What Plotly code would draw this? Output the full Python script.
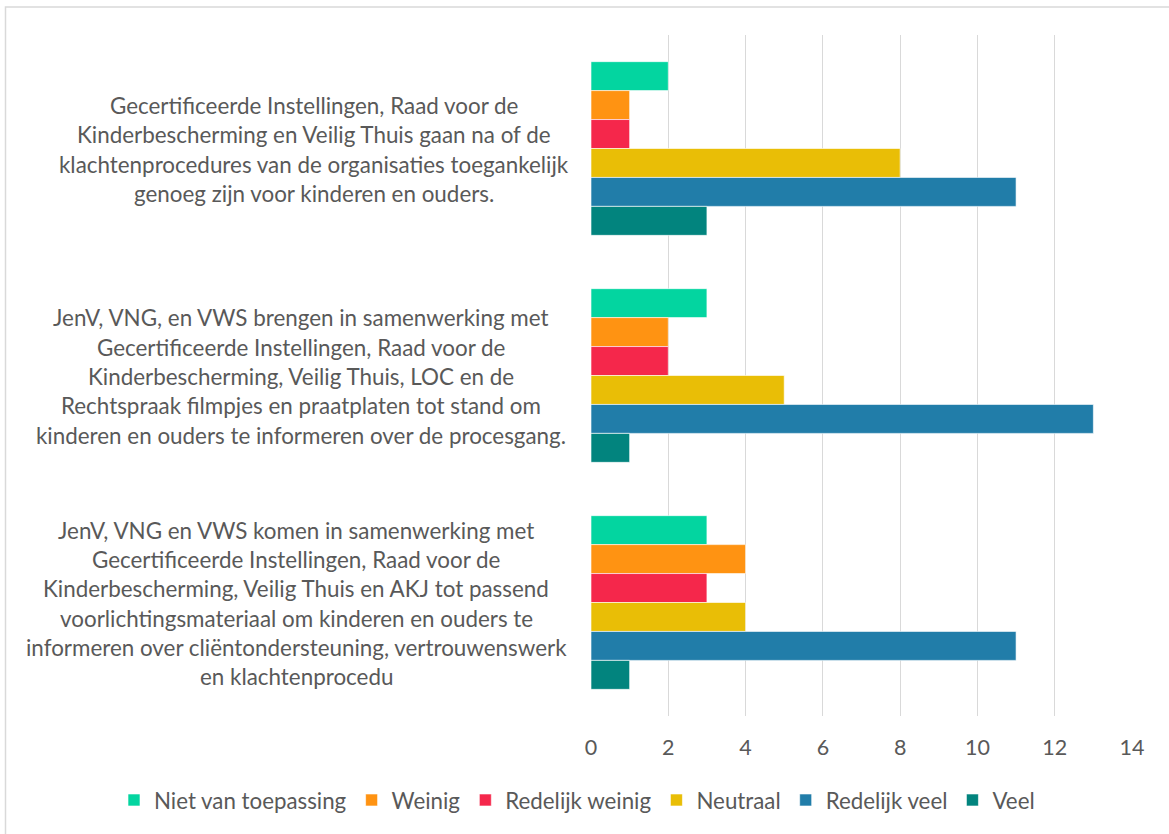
import plotly.graph_objects as go

categories = [
    "Gecertificeerde Instellingen, Raad voor de Kinderbescherming en Veilig Thuis gaan na of de klachtenprocedures van de organisaties toegankelijk genoeg zijn voor kinderen en ouders.",
    "JenV, VNG, en VWS brengen in samenwerking met Gecertificeerde Instellingen, Raad voor de Kinderbescherming, Veilig Thuis, LOC en de Rechtspraak filmpjes en praatplaten tot stand om kinderen en ouders te informeren over de procesgang.",
    "JenV, VNG en VWS komen in samenwerking met Gecertificeerde Instellingen, Raad voor de Kinderbescherming, Veilig Thuis en AKJ tot passend voorlichtingsmateriaal om kinderen en ouders te informeren over cliëntondersteuning, vertrouwenswerk en klachtenprocedu",
]
category_lines = [
    ["Gecertificeerde Instellingen, Raad voor de",
     "Kinderbescherming en Veilig Thuis gaan na of de",
     "klachtenprocedures van de organisaties toegankelijk",
     "genoeg zijn voor kinderen en ouders."],
    ["JenV, VNG, en VWS brengen in samenwerking met",
     "Gecertificeerde Instellingen, Raad voor de",
     "Kinderbescherming, Veilig Thuis, LOC en de",
     "Rechtspraak filmpjes en praatplaten tot stand om",
     "kinderen en ouders te informeren over de procesgang."],
    ["JenV, VNG en VWS komen in samenwerking met",
     "Gecertificeerde Instellingen, Raad voor de",
     "Kinderbescherming, Veilig Thuis en AKJ tot passend",
     "voorlichtingsmateriaal om kinderen en ouders te",
     "informeren over cliëntondersteuning, vertrouwenswerk",
     "en klachtenprocedu"],
]

series_names = ["Niet van toepassing", "Weinig", "Redelijk weinig", "Neutraal", "Redelijk veel", "Veel"]
niet_van_toepassing = [2, 3, 3]
weinig = [1, 2, 4]
redelijk_weinig = [1, 2, 3]
neutraal = [8, 5, 4]
redelijk_veel = [11, 13, 11]
veel = [3, 1, 1]
series_values = [niet_van_toepassing, weinig, redelijk_weinig, neutraal, redelijk_veel, veel]
series_colors = ["#03D5A0", "#FF9312", "#F5274B", "#E9BE06", "#217DA9", "#02847E"]

x_ticks = [0, 2, 4, 6, 8, 10, 12, 14]

FONT = "Lato"
TXT = "#595959"

W, H = 1169, 834
L, R, T, B = 591, 1132, 35, 716   # plot area in pixels
PW, PH = R - L, B - T

fig = go.Figure()
for name, vals, col in zip(series_names, series_values, series_colors):
    fig.add_trace(go.Bar(
        y=categories, x=vals, name=name, orientation="h",
        marker=dict(color=col, line=dict(color="rgba(255,255,255,0.6)", width=1)),
    ))

# category labels: one annotation per wrapped line, centred on the block
block_centers = [314, 301, 296]
line_pitch = 29.3
annotations = []
for cat, lines, cx in zip(categories, category_lines, block_centers):
    n = len(lines)
    for i, ln in enumerate(lines):
        annotations.append(dict(
            xref="paper", yref="y", x=0, y=cat,
            xshift=cx - L, yshift=((n - 1) / 2 - i) * line_pitch - 1,
            text=ln, showarrow=False, xanchor="center", yanchor="middle",
            font=dict(family=FONT, size=22.4, color=TXT),
        ))

fig.update_layout(
    width=W, height=H, autosize=False,
    paper_bgcolor="white", plot_bgcolor="white",
    margin=dict(l=L, r=W - R, t=T, b=H - B, pad=0),
    barmode="group", bargap=0.235, bargroupgap=0,
    font=dict(family=FONT, size=21, color=TXT),
    showlegend=True,
    legend=dict(
        orientation="h", xref="paper", yref="paper",
        x=(114 - L) / PW, xanchor="left", y=(B - 800) / PH, yanchor="middle",
        font=dict(family=FONT, size=22.3, color=TXT),
        itemwidth=30, tracegroupgap=0, bgcolor="rgba(0,0,0,0)",
    ),
    annotations=annotations,
    shapes=[dict(type="rect", xref="paper", yref="paper",
                 x0=(5.5 - L) / PW, x1=(1185 - L) / PW,
                 y0=(B - 850) / PH, y1=(B - 7) / PH,
                 line=dict(color="#d9d9d9", width=1.5), layer="below")],
)
fig.update_xaxes(
    range=[0, 14], tickvals=x_ticks, ticktext=[str(t) for t in x_ticks],
    showgrid=True, gridcolor="#d9d9d9", gridwidth=1.3,
    zeroline=False, showline=False, ticks="",
    ticklabelstandoff=16,
    tickfont=dict(family=FONT, size=21.5, color=TXT),
)
fig.update_yaxes(
    autorange="reversed", showticklabels=False, showgrid=False,
    zeroline=False, showline=False, ticks="",
)

fig.write_html(
    "out.html",
    config={"displayModeBar": False},
    post_script="document.body.style.margin='0';document.body.style.overflow='hidden';",
)
